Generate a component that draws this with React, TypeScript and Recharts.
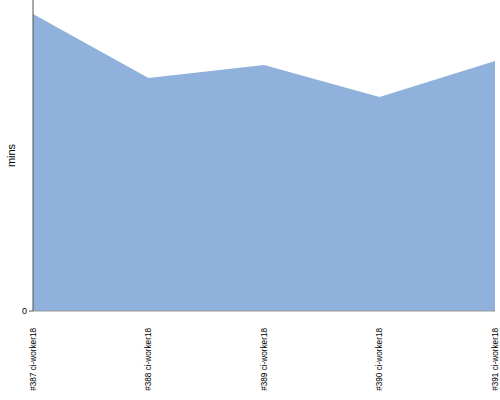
import React from 'react';
import { AreaChart, Area, XAxis, YAxis } from 'recharts';

const builds = ['#387 ci-worker18', '#388 ci-worker18', '#389 ci-worker18', '#390 ci-worker18', '#391 ci-worker18'];
const minutes = [29.7, 23.3, 24.6, 21.4, 25.0];
const yTicks = [0];

const data = builds.map((name, i) => ({ name, mins: minutes[i] }));

const font = 'Liberation Sans';

const BuildTick = (props: any) => {
  const { x, y, payload } = props;
  const ty = y + 9;
  return (
    <text
      x={x}
      y={ty}
      transform={`rotate(-90 ${x} ${ty})`}
      textAnchor="end"
      dominantBaseline="central"
      fontSize={8.2}
      fontFamily={font}
      fill="#000"
    >
      {payload.value}
    </text>
  );
};

const MinsLabel = (props: any) => {
  const { viewBox } = props;
  const cx = 11;
  const cy = viewBox.y + viewBox.height / 2;
  return (
    <text
      x={cx}
      y={cy}
      transform={`rotate(-90 ${cx} ${cy})`}
      textAnchor="middle"
      dominantBaseline="central"
      fontSize={11}
      fontFamily={font}
      fill="#000"
    >
      mins
    </text>
  );
};

const App: React.FC = () => (
  <div style={{ position: 'absolute', left: 0, top: 0 }}>
    <AreaChart width={500} height={400} data={data} margin={{ top: 0, right: 5, left: 0, bottom: 0 }}>
      <XAxis dataKey="name" height={89} interval={0} tickLine={false} stroke="#999" tick={<BuildTick />} />
      <YAxis
        width={33}
        domain={[0, 31.1]}
        ticks={yTicks}
        tickSize={4}
        stroke="#555"
        tick={{ fill: '#000', fontSize: 9, fontFamily: font }}
        label={<MinsLabel />}
      />
      <Area type="linear" dataKey="mins" fill="#8fb1db" fillOpacity={1} stroke="none" isAnimationActive={false} />
    </AreaChart>
  </div>
);

export default App;
